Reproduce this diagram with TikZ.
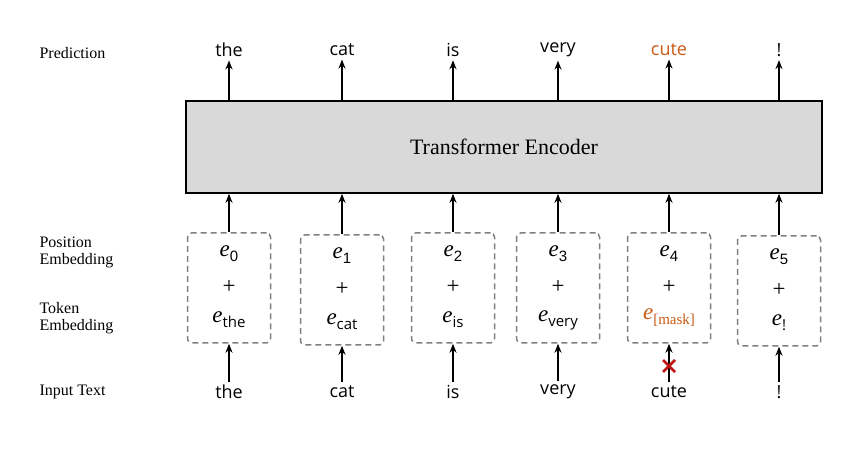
\documentclass[tikz,border=0pt]{standalone}
\usepackage{fontspec}
\setmainfont{Liberation Serif}
\newfontfamily\wordfont{Open Sans}
\usetikzlibrary{arrows.meta}
\definecolor{orng}{RGB}{200,90,20}
\definecolor{xred}{RGB}{190,20,20}
\newcommand{\esub}[1]{\textit{e}\raisebox{-5pt}{\fontsize{15}{15}\selectfont #1}}
\begin{document}
\begin{tikzpicture}[x=1pt,y=-1pt,
  lbl/.style={font=\fontsize{16}{17}\selectfont,align=left,anchor=west},
  word/.style={font=\wordfont\fontsize{18}{20}\selectfont},
  big/.style={font=\fontsize{23}{24}\selectfont},
  ebox/.style={draw=gray,dashed,line width=1.5pt,dash pattern=on 6pt off 4pt,rounded corners=4pt,minimum width=83pt,minimum height=110pt,align=center,inner sep=0pt},
  arr/.style={-{Stealth[length=9pt,width=7pt]},line width=1.6pt}]
\useasboundingbox (0,0) rectangle (868,454);
\node[lbl] (lp) at (36,53) {Prediction};
\node[lbl] (lpos) at (36,252) {Position\\Embedding};
\node[lbl] (ltok) at (36,318) {Token\\Embedding};
\node[lbl] (lin) at (36,392) {Input Text};
\node[draw,line width=1.6pt,fill=gray!30,minimum width=636pt,minimum height=92pt,font=\fontsize{22}{24}\selectfont] (enc) at (504,147) {Transformer Encoder};
\foreach \i/\x/\y/\w/\c in {0/229/288/the/black,1/342/290/cat/black,2/453/288/is/black,3/558/288/very/black,4/669/288/cute/orng,5/779/291/!/black}{
  \node[ebox] (b\i) at (\x,\y) {};
  \node[big] (e\i) at (\x,\y-34) {\esub{\fontspec{Liberation Sans}\i}};
  \node[big] (pl\i) at (\x,\y-1) {+};
  \node[word] (in\i) at (\x,392) {\w};
  \node[word,text=\c] (pr\i) at (\x,50) {\w};
  \draw[arr] (in\i.north) -- (b\i.south);
  \draw[arr] (b\i.north) -- (enc.south -| b\i.north);
  \draw[arr] (enc.north -| pr\i.south) -- (pr\i.south);
}
\node[big] (t0) at (229,320) {\esub{\wordfont the}};
\node[big] (t1) at (342,322) {\esub{\wordfont cat}};
\node[big] (t2) at (453,320) {\esub{\wordfont is}};
\node[big] (t3) at (558,320) {\esub{\wordfont very}};
\node[big,text=orng] (t4) at (669,318) {\esub{[mask]}};
\node[big] (t5) at (779,323) {\esub{\wordfont !}};
\coordinate (xc) at (669,366);
\draw[xred,line width=2.6pt] ([shift={(-6,-6)}]xc) -- ([shift={(6,6)}]xc) ([shift={(-6,6)}]xc) -- ([shift={(6,-6)}]xc);
\end{tikzpicture}
\end{document}
